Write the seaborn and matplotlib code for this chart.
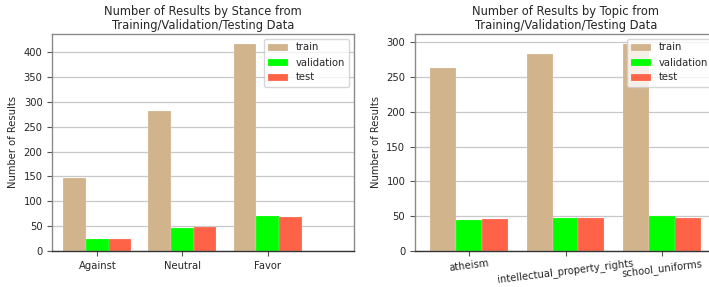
import matplotlib
matplotlib.use("Agg")
import matplotlib.pyplot as plt
import seaborn as sns
import pandas as pd

stances = ["Against", "Neutral", "Favor"]
stance_train = [146, 282, 417]
stance_validation = [25, 46, 71]
stance_test = [24, 48, 69]

topics = ["atheism", "intellectual_property_rights", "school_uniforms"]
topic_train = [263, 283, 298]
topic_validation = [45, 47, 50]
topic_test = [46, 48, 48]

splits = ["train", "validation", "test"]
colors = ["#D2B48C", "#00FF00", "#FF6347"]

def long_df(cats, tr, va, te):
    rows = []
    for s, vals in zip(splits, [tr, va, te]):
        for c, v in zip(cats, vals):
            rows.append({"cat": c, "split": s, "count": v})
    return pd.DataFrame(rows)

sns.set_style("white")
plt.rcParams["font.family"] = ["DejaVu Sans"]
plt.rcParams["text.color"] = "#262626"
plt.rcParams["axes.labelcolor"] = "#262626"
plt.rcParams["xtick.color"] = "#262626"
plt.rcParams["ytick.color"] = "#262626"

fig = plt.figure(figsize=(7.09, 2.87), dpi=100)
W, H = 709, 287
ax1 = fig.add_axes([52.3 / W, (287 - 251) / H, 302 / W, 217.5 / H])
ax2 = fig.add_axes([415 / W, (287 - 251) / H, 302 / W, 217.5 / H])

fs = 7.2

def style(ax, df, cats, title, xlim, rot, xpad):
    sns.barplot(data=df, x="cat", y="count", hue="split", hue_order=splits,
                order=cats, palette=colors, saturation=1, width=0.8,
                edgecolor=(1, 1, 1, 0.5), linewidth=0.25, ax=ax, zorder=2)
    ax.set_xlim(*xlim)
    ax.set_ylim(0, max(df["count"]) * 1.05)
    ax.yaxis.grid(True, color="#c8c8c8", linewidth=0.9, zorder=0)
    ax.set_axisbelow(True)
    for side in ["left", "right", "top"]:
        ax.spines[side].set_color("#8a8a8a")
        ax.spines[side].set_linewidth(1.0)
    ax.spines["bottom"].set_color("#333333")
    ax.spines["bottom"].set_linewidth(1.0)
    ax.tick_params(axis="both", which="both", length=3.5, width=0.8,
                   color="#555555", labelsize=fs, left=True, bottom=True)
    ax.tick_params(axis="x", pad=xpad)
    ax.set_xlabel("")
    ax.set_ylabel("Number of Results", fontsize=fs)
    ax.set_title(title, fontsize=8.3, pad=3.6, linespacing=1.0)
    for lbl in ax.get_xticklabels():
        lbl.set_rotation(rot)
        lbl.set_ha("center")
    ax.legend(loc="upper right", fontsize=fs, title=None, frameon=True,
              framealpha=0.8, edgecolor="#cccccc", fancybox=True)

style(ax1, long_df(stances, stance_train, stance_validation, stance_test), stances,
      "Number of Results by Stance from\nTraining/Validation/Testing Data", (-0.53, 3.02), 0, 3.5)
style(ax2, long_df(topics, topic_train, topic_validation, topic_test), topics,
      "Number of Results by Topic from\nTraining/Validation/Testing Data", (-0.56, 2.57), 7, 1.5)

fig.savefig("out.png", dpi=100)
